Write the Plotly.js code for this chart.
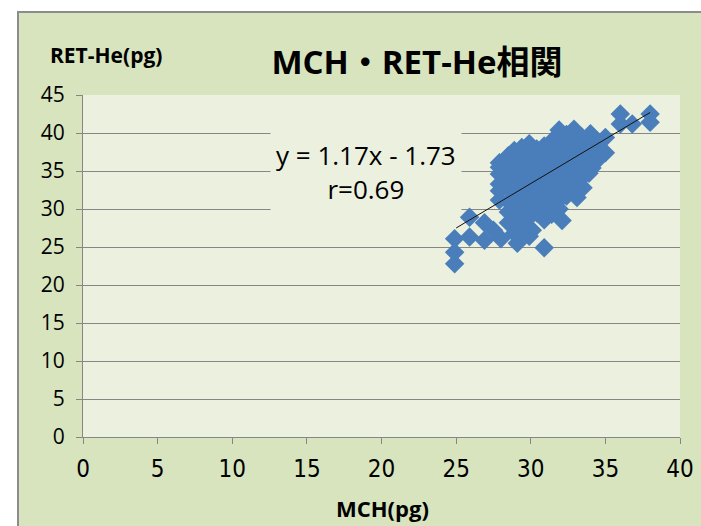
<!DOCTYPE html>
<html>
<head>
<meta charset="utf-8">
<script src="https://cdn.plot.ly/plotly-3.0.1.min.js"></script>
<style>html,body{margin:0;padding:0;background:#fff;}#chart{width:701px;height:526px;}</style>
</head>
<body>
<div id="chart"></div>
<script>
// MCH (pg) values
var mch = [
 24.9,24.9,24.9,25.9,25.9,26.9,26.9,27.5,28.0,29.1,30.9,29.1,30.1,29.1,31.1,32.1,
 36.0,36.0,36.8,38.0,38.0,35.0,35.0,34.0,34.6,34.1,33.5,33.1,
 27.9,27.9,27.9,27.9,27.9,27.9,
 28.5,28.5,28.5,28.5,28.5,28.5,28.5,
 28.9,28.9,28.9,28.9,28.9,28.9,28.9,28.9,
 29.4,29.4,29.4,29.4,29.4,29.4,29.4,29.4,
 29.9,29.9,29.9,29.9,29.9,29.9,29.9,29.9,29.9,
 30.4,30.4,30.4,30.4,30.4,30.4,30.4,
 30.9,30.9,30.9,30.9,30.9,30.9,30.9,30.9,
 31.4,31.4,31.4,31.4,31.4,31.4,31.4,31.4,
 31.9,31.9,31.9,31.9,31.9,31.9,31.9,31.9,31.9,
 32.4,32.4,32.4,32.4,32.4,32.4,32.4,
 32.9,32.9,32.9,32.9,32.9,32.9,32.9,
 33.4,33.4,33.4,33.4,33.4,
 33.9,33.9,33.9,33.9,
 34.4,34.4,34.4
];
// RET-He (pg) values
var retHe = [
 22.8,24.3,26.1,28.9,26.3,28.2,25.9,27.2,26.1,25.5,24.9,27.2,27.2,28.9,29.4,28.5,
 42.5,41.2,41.2,42.5,41.4,39.4,37.4,39.9,38.0,35.4,32.8,31.5,
 36.1,35.5,34.6,33.3,32.4,31.2,
 37.0,35.8,34.2,32.8,31.0,29.6,28.2,
 37.7,36.2,34.9,33.6,32.1,30.4,29.0,26.8,
 38.1,36.8,35.3,33.9,32.6,31.2,29.9,28.1,
 38.6,37.2,35.7,34.5,33.1,31.6,30.3,28.9,26.4,
 37.9,36.4,35.1,33.7,32.2,30.8,29.5,
 38.3,37.0,35.8,34.3,32.9,31.4,30.0,28.6,
 38.9,37.6,36.2,34.8,33.5,32.0,30.6,29.3,
 40.4,39.2,37.9,36.7,35.3,34.0,32.6,31.2,30.0,
 39.8,38.5,37.1,35.8,34.4,33.1,31.7,
 40.5,39.1,37.8,36.4,35.0,33.6,32.2,
 39.5,38.2,36.9,35.5,34.1,
 38.6,37.3,36.0,34.7,
 38.9,37.6,36.3
];
// trendline end points
var trendX = [25.0, 38.0];
var trendY = [27.5, 42.7];
var xTicks = [0,5,10,15,20,25,30,35,40];
var yTicks = [0,5,10,15,20,25,30,35,40,45];

var titleText = 'MCH・RET-He相関';
var xTitle = 'MCH(pg)';
var yTitle = 'RET-He(pg)';
var eqText = 'y = 1.17x - 1.73<br>r=0.69';

// geometry (pixels)
var W = 701, H = 526;
var L = 83, R = 680, T = 95, B = 437;
var pw = R - L, ph = B - T;
function px(x){ return (x - L) / pw; }
function py(y){ return (B - y) / ph; }

var fontMain = '"Open Sans", "Noto Sans CJK JP", sans-serif';
var fontNarrow = '"Liberation Sans Narrow", "DejaVu Sans Condensed", "Liberation Sans", sans-serif';

var data = [
  {
    type: 'scatter', mode: 'markers', x: mch, y: retHe,
    marker: {symbol: 'diamond', size: 15, color: '#4a7ebb', line: {width: 0}},
    hoverinfo: 'x+y', showlegend: false
  },
  {
    type: 'scatter', mode: 'lines', x: trendX, y: trendY,
    line: {color: '#111111', width: 1}, hoverinfo: 'skip', showlegend: false
  }
];

var layout = {
  width: W, height: H,
  margin: {l: L, r: W - R, t: T, b: H - B, pad: 0},
  paper_bgcolor: '#ffffff',
  plot_bgcolor: 'rgba(0,0,0,0)',
  showlegend: false,
  title: {
    text: '<b>' + titleText + '</b>',
    font: {family: fontMain, size: 33, color: '#000000'},
    xref: 'container', yref: 'container',
    x: 417 / W, y: 1 - 62 / H, xanchor: 'center', yanchor: 'middle'
  },
  xaxis: {
    range: [0, 40], tickvals: xTicks, ticktext: xTicks.map(String),
    showgrid: false, zeroline: false,
    showline: true, linecolor: '#868686', linewidth: 1,
    ticks: 'outside', ticklen: 6, tickcolor: '#868686', tickwidth: 1,
    tickfont: {family: fontNarrow, size: 24, color: '#000000'},
    ticklabelstandoff: 4,
    fixedrange: true
  },
  yaxis: {
    range: [0, 45], tickvals: yTicks, ticktext: yTicks.map(String),
    showgrid: true, gridcolor: '#868686', gridwidth: 1,
    zeroline: false,
    showline: true, linecolor: '#868686', linewidth: 1,
    ticks: 'outside', ticklen: 6, tickcolor: '#868686', tickwidth: 1,
    tickfont: {family: fontMain, size: 21, color: '#000000'},
    ticklabelstandoff: 7,
    fixedrange: true
  },
  shapes: [
    {type: 'rect', xref: 'paper', yref: 'paper', layer: 'below',
     x0: px(18), x1: px(710), y0: py(535), y1: py(12),
     fillcolor: '#d7e4bd', line: {color: '#8c8c8c', width: 2}},
    {type: 'rect', xref: 'paper', yref: 'paper', layer: 'below',
     x0: 0, x1: 1, y0: 0, y1: 1,
     fillcolor: '#ebf0df', line: {width: 0}}
  ],
  annotations: [
    {text: '<b>' + yTitle + '</b>', xref: 'paper', yref: 'paper',
     x: px(106), y: py(55), xanchor: 'center', yanchor: 'middle', showarrow: false,
     font: {family: fontMain, size: 21, color: '#000000'}},
    {text: '<b>' + xTitle + '</b>', xref: 'paper', yref: 'paper',
     x: px(382), y: py(508), xanchor: 'center', yanchor: 'middle', showarrow: false,
     font: {family: fontMain, size: 22, color: '#000000'}},
    {text: eqText, xref: 'paper', yref: 'paper',
     x: px(366), y: py(172), xanchor: 'center', yanchor: 'middle', showarrow: false,
     align: 'center', bgcolor: '#ebf0df', borderpad: 5,
     font: {family: fontMain, size: 26, color: '#000000'}}
  ]
};

Plotly.newPlot('chart', data, layout, {displayModeBar: false, staticPlot: true});
</script>
</body>
</html>
